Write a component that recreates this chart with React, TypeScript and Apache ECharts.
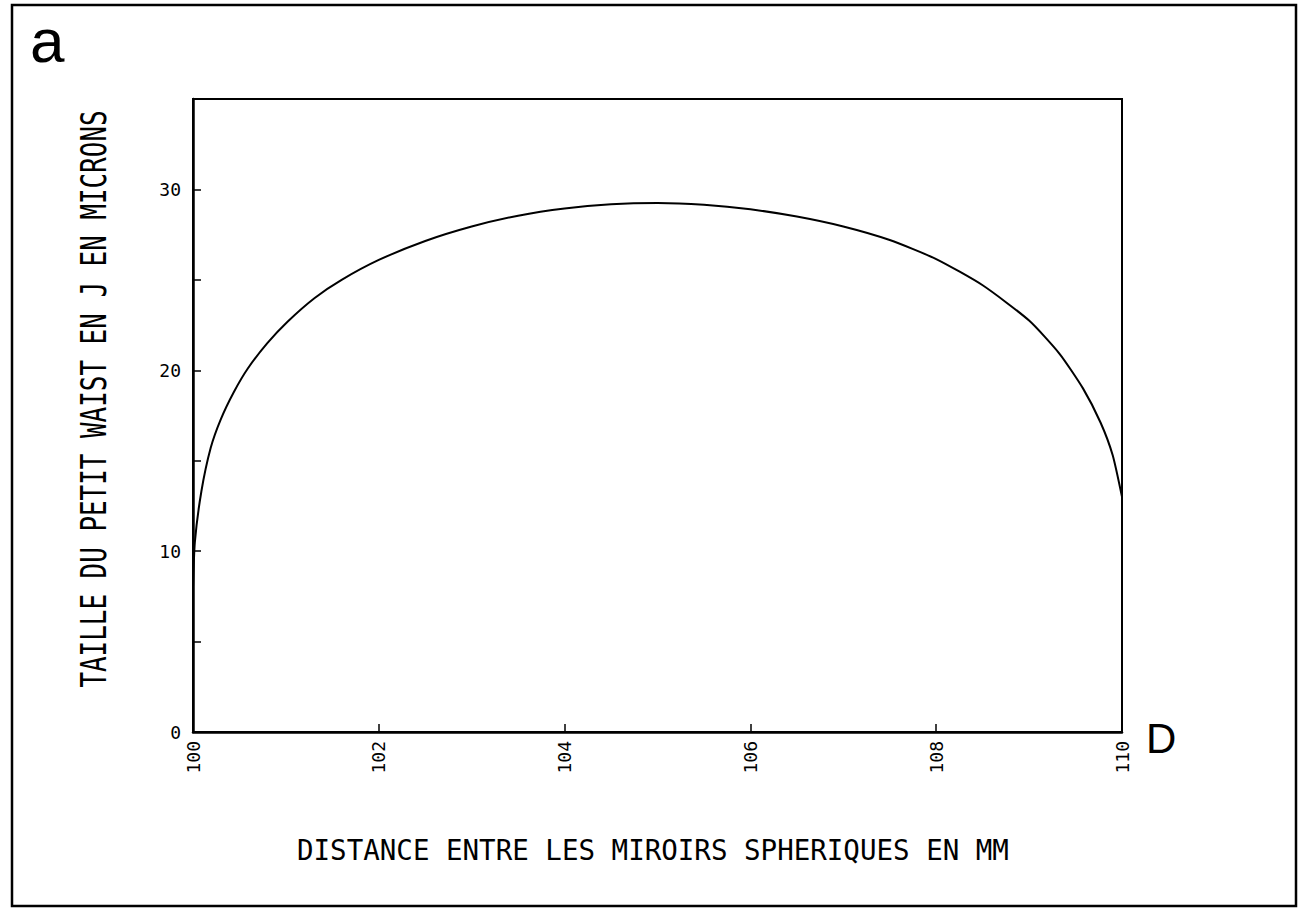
import React, { useEffect, useRef } from "react";
import * as echarts from "echarts";

const distanceMm = [100.0, 100.02, 100.09, 100.19, 100.3, 100.44, 100.59, 100.8, 101.02, 101.31, 101.6, 102.0, 102.5, 103.0, 103.5, 104.0, 104.5, 105.0, 105.5, 106.0, 106.5, 107.0, 107.5, 108.0, 108.5, 109.0, 109.33, 109.58, 109.77, 109.9, 110.0];
const waistMicrons = [8.0, 10.5, 13.3, 15.7, 17.3, 18.8, 20.1, 21.5, 22.7, 24.0, 25.0, 26.1, 27.15, 27.95, 28.55, 28.95, 29.18, 29.25, 29.15, 28.9, 28.5, 27.95, 27.2, 26.15, 24.7, 22.75, 20.9, 19.0, 17.1, 15.3, 13.0];
const yLabelValues = [0, 10, 20, 30];

const xTitle = "DISTANCE ENTRE LES MIROIRS SPHERIQUES EN MM";
const yTitle = "TAILLE DU PETIT WAIST EN J EN MICRONS";
const panelLetter = "a";
const axisLetter = "D";

const MONO = "'DejaVu Sans Mono', monospace";
const SANS = "'Liberation Sans', Arial, sans-serif";

export default function App() {
  const ref = useRef<HTMLDivElement>(null);
  useEffect(() => {
    if (!ref.current) return;
    const chart = echarts.init(ref.current, null, { renderer: "svg" });
    const data = distanceMm.map((x, i) => [x, waistMicrons[i]]);
    chart.setOption({
      animation: false,
      backgroundColor: "#ffffff",
      grid: {
        left: 193,
        right: 183,
        top: 99,
        bottom: 917 - 732,
        show: true,
        borderColor: "#000",
        borderWidth: 2,
        backgroundColor: "transparent",
      },
      xAxis: {
        type: "value",
        min: 100,
        max: 110,
        interval: 2,
        axisLine: { show: true, lineStyle: { color: "#000", width: 2.5 } },
        axisTick: { show: true, inside: true, length: 8, lineStyle: { color: "#000", width: 1.5 } },
        splitLine: { show: false },
        axisLabel: {
          rotate: 90,
          margin: 9,
          color: "#000",
          fontFamily: MONO,
          fontSize: 18,
        },
      },
      yAxis: {
        type: "value",
        min: 0,
        max: 35,
        interval: 5,
        axisLine: { show: true, lineStyle: { color: "#000", width: 2.5 } },
        axisTick: { show: true, inside: true, length: 8, lineStyle: { color: "#000", width: 1.5 } },
        splitLine: { show: false },
        axisLabel: {
          margin: 12,
          color: "#000",
          fontFamily: MONO,
          fontSize: 18,
          formatter: (v: number) => (yLabelValues.indexOf(v) >= 0 ? String(v) : ""),
        },
      },
      series: [
        {
          type: "line",
          data,
          smooth: 0.2,
          showSymbol: false,
          symbol: "none",
          lineStyle: { color: "#000", width: 2 },
        },
      ],
      graphic: [
        {
          type: "rect",
          shape: { x: 12, y: 5, width: 1284, height: 901 },
          style: { fill: "none", stroke: "#000", lineWidth: 2.5 },
          silent: true,
        },
        {
          type: "text",
          x: 30,
          y: 40,
          style: {
            text: panelLetter,
            font: `62px ${SANS}`,
            fill: "#000",
            textAlign: "left",
            textVerticalAlign: "middle",
          },
        },
        {
          type: "text",
          x: 1146,
          y: 738,
          style: {
            text: axisLetter,
            font: `42px ${SANS}`,
            fill: "#000",
            textAlign: "left",
            textVerticalAlign: "middle",
          },
        },
        {
          type: "text",
          x: 297,
          y: 850,
          style: {
            text: xTitle,
            font: `27.5px ${MONO}`,
            fill: "#000",
            textAlign: "left",
            textVerticalAlign: "middle",
          },
        },
        {
          type: "text",
          x: 93,
          y: 399,
          rotation: Math.PI / 2,
          scaleX: 0.96,
          scaleY: 1.3,
          style: {
            text: yTitle,
            font: `27px ${MONO}`,
            fill: "#000",
            textAlign: "center",
            textVerticalAlign: "middle",
          },
        },
      ],
    });
    return () => chart.dispose();
  }, []);
  return (
    <div
      ref={ref}
      style={{ position: "absolute", left: 0, top: 0, width: 1305, height: 917 }}
    />
  );
}
